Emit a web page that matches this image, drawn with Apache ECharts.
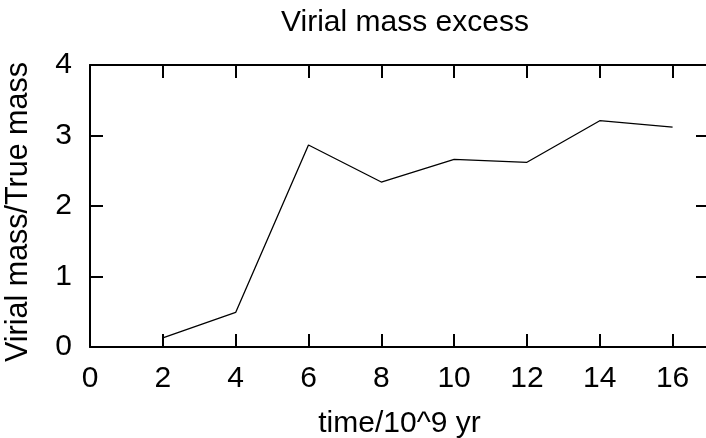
<!DOCTYPE html>
<html>
<head>
<meta charset="utf-8">
<script src="https://cdn.jsdelivr.net/npm/echarts@6/dist/echarts.min.js"></script>
<style>html,body{margin:0;padding:0;background:#fff}#c{width:706px;height:438px}</style>
</head>
<body>
<div id="c"></div>
<script>
var times = [2, 4, 6, 8, 10, 12, 14, 16];
var ratio = [0.13, 0.49, 2.865, 2.34, 2.66, 2.62, 3.21, 3.12];
var titleText = 'Virial mass excess';
var xName = 'time/10^9 yr';
var yName = 'Virial mass/True mass';

var FONT = 'Liberation Sans, Arial, sans-serif';
var FS = 30;
var chart = echarts.init(document.getElementById('c'), null, {renderer: 'canvas'});
var points = times.map(function (t, i) { return [t, ratio[i]]; });
var axLine = {show: true, onZero: false, lineStyle: {color: '#000', width: 2}};
var tick = {show: true, inside: true, length: 13, lineStyle: {color: '#000', width: 2}};
chart.setOption({
  animation: false,
  backgroundColor: '#fff',
  title: {
    text: titleText, left: 400, top: 3, textAlign: 'center',
    textStyle: {fontFamily: FONT, fontSize: FS, fontWeight: 'normal', color: '#000'}
  },
  grid: {left: 90, top: 65, right: -3, bottom: 91, containLabel: false, outerBoundsMode: 'none'},
  xAxis: [{
    type: 'value', min: 0, max: 17, interval: 2, position: 'bottom',
    name: xName, nameLocation: 'middle', nameGap: 62,
    nameTextStyle: {fontFamily: FONT, fontSize: FS, color: '#000'},
    axisLine: axLine, axisTick: tick, splitLine: {show: false},
    axisLabel: {fontFamily: FONT, fontSize: FS, color: '#000', margin: 17, showMaxLabel: false}
  }, {
    type: 'value', min: 0, max: 17, interval: 2, position: 'top',
    axisLine: axLine, axisTick: tick, splitLine: {show: false},
    axisLabel: {show: false}
  }],
  yAxis: [{
    type: 'value', min: 0, max: 4, interval: 1, position: 'left',
    name: yName, nameLocation: 'middle', nameGap: 56,
    nameTextStyle: {fontFamily: FONT, fontSize: 30.5, color: '#000', padding: [0, 12, 0, 0]},
    axisLine: axLine, axisTick: tick, splitLine: {show: false},
    axisLabel: {fontFamily: FONT, fontSize: FS, color: '#000', margin: 18}
  }, {
    type: 'value', min: 0, max: 4, interval: 1, position: 'right',
    axisLine: axLine, axisTick: tick, splitLine: {show: false},
    axisLabel: {show: false}
  }],
  series: [{
    type: 'line', data: points, xAxisIndex: 0, yAxisIndex: 0,
    showSymbol: false, symbol: 'none',
    lineStyle: {color: '#000', width: 1.3}
  }]
});
</script>
</body>
</html>
